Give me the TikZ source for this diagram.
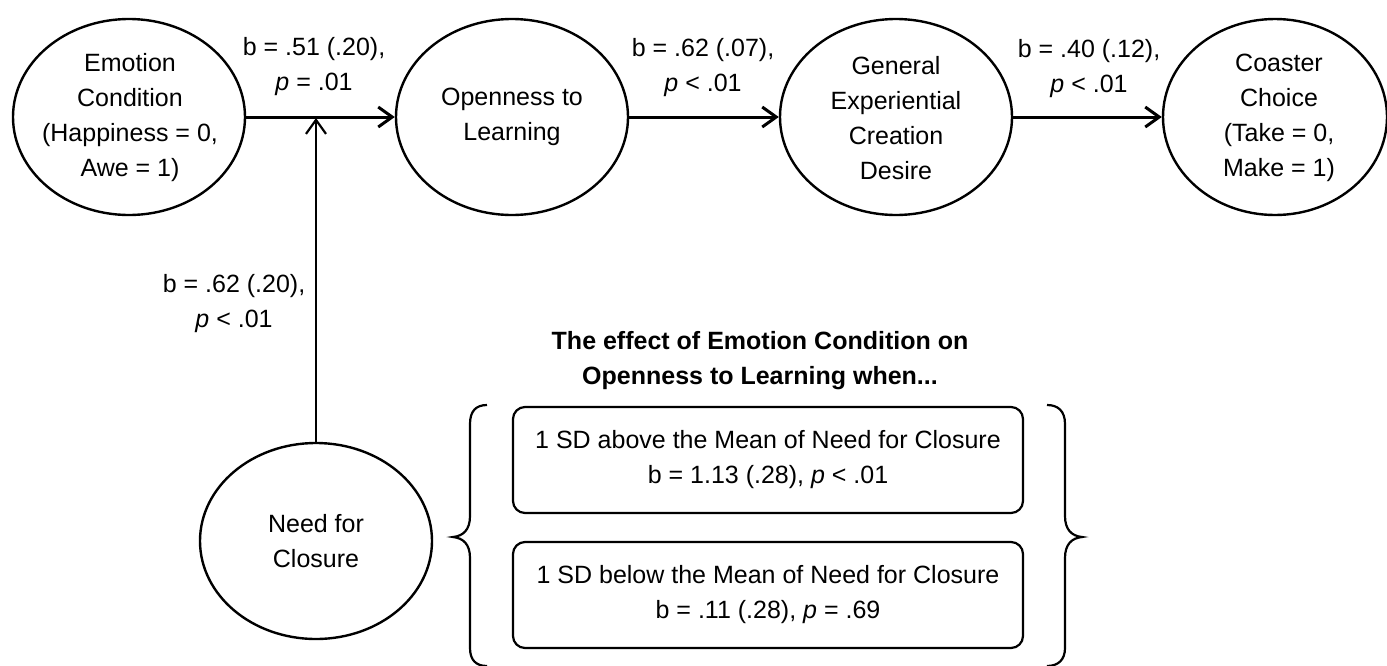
\documentclass[tikz,border=0pt]{standalone}
\usepackage{fontspec}
\setmainfont{Liberation Sans}
\usetikzlibrary{shapes.geometric,arrows.meta}
\begin{document}
\begin{tikzpicture}[x=0.5pt,y=-0.5pt,
  every node/.style={font=\fontsize{12.5}{17.5}\selectfont},
  ell/.style={draw,ellipse,line width=1.2pt,minimum width=116pt,minimum height=98pt,inner sep=0pt},
  txt/.style={align=center,inner sep=0pt},
  conn/.style={line width=1.5pt,-{Straight Barb[length=7pt,width=10pt]}},
  vconn/.style={line width=1.1pt,-{Straight Barb[length=7pt,width=10pt]}},
  rbox/.style={draw,rounded corners=6pt,line width=1.1pt,minimum width=255pt,minimum height=53pt,align=center,inner sep=0pt},
  brc/.style={line width=1.1pt}]
\useasboundingbox (0,0) rectangle (1387,665);

% top row ellipses
\node[ell] (emo) at (129,117) {};
\node[txt] (emoT) at (130,118) {Emotion\\Condition\\(Happiness = 0,\\Awe = 1)};
\node[ell] (open) at (512,117) {};
\node[txt] (openT) at (512,117) {Openness to\\Learning};
\node[ell] (gen) at (896,117) {};
\node[txt] (genT) at (896,118) {General\\Experiential\\Creation\\Desire};
\node[ell,minimum width=112pt] (coast) at (1275,117) {};
\node[txt] (coastT) at (1279,118) {Coaster\\Choice\\(Take = 0,\\Make = 1)};

% moderator
\node[ell] (nfc) at (316,541) {};
\node[txt] (nfcT) at (316,541) {Need for\\Closure};
\coordinate (j) at (316,118);

% connectors
\draw[conn] (emo) -- (open);
\draw[conn] (open) -- (gen);
\draw[conn] (gen) -- (coast);
\draw[vconn] (nfc) -- (j);

% path labels
\node[txt] (l1) at (314,67) {b = .51 (.20),\\\textit{p} = .01};
\node[txt] (l2) at (703,68) {b = .62 (.07),\\\textit{p} < .01};
\node[txt] (l3) at (1089,69) {b = .40 (.12),\\\textit{p} < .01};
\node[txt] (l4) at (234,304) {b = .62 (.20),\\\textit{p} < .01};

% simple effects
\node[txt,font=\fontsize{12.5}{17.5}\selectfont\bfseries] (title) at (760,361) {The effect of Emotion Condition on\\Openness to Learning when...};
\node[rbox] (hi) at (768,460) {1 SD above the Mean of Need for Closure\\b = 1.13 (.28), \textit{p} < .01};
\node[rbox] (lo) at (768,595) {1 SD below the Mean of Need for Closure\\b = .11 (.28), \textit{p} = .69};

% braces
\draw[brc] (487,405) .. controls (476,405) and (470,411) .. (470,424)
  -- (470,516) .. controls (470,530) and (463,536) .. (453,537)
  .. controls (463,538) and (470,544) .. (470,558)
  -- (470,648) .. controls (470,660) and (476,666) .. (487,666);
\draw[brc] (1047,405) .. controls (1058,405) and (1065,411) .. (1065,424)
  -- (1065,516) .. controls (1065,530) and (1072,536) .. (1082,537)
  .. controls (1072,538) and (1065,544) .. (1065,558)
  -- (1065,648) .. controls (1065,660) and (1058,666) .. (1047,666);
\end{tikzpicture}
\end{document}
